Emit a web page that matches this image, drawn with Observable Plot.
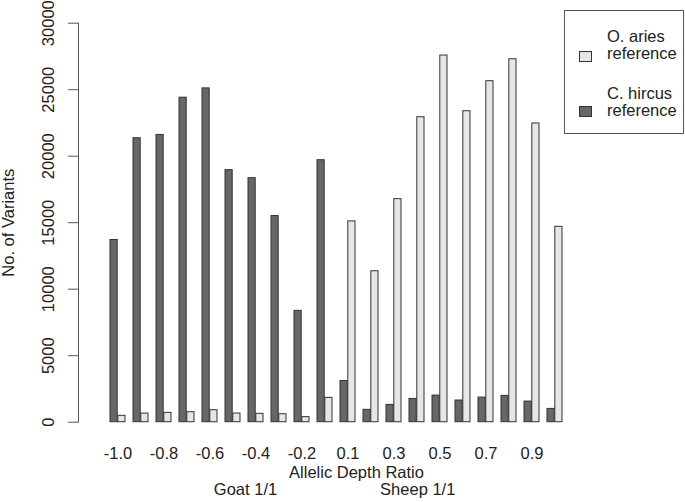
<!DOCTYPE html>
<html>
<head>
<meta charset="utf-8">
<script src="https://cdn.jsdelivr.net/npm/d3@7"></script>
<script src="https://cdn.jsdelivr.net/npm/@observablehq/plot@0.6"></script>
<style>
  html, body { margin: 0; padding: 0; background: #fff; }
  #wrap { position: relative; width: 685px; height: 502px; font-family: "Liberation Sans", Arial, Helvetica, sans-serif; color: #222; }
  #legend { position: absolute; left: 564px; top: 10px; width: 118px; height: 122px; border: 1.3px solid #555; box-sizing: content-box; }
  .sw { position: absolute; width: 11px; height: 9px; border: 1px solid #333; }
  .lt { position: absolute; font-size: 16.5px; line-height: 17px; white-space: nowrap; }
</style>
</head>
<body>
<div id="wrap"><div id="chart"></div><div id="legend"></div></div>
<script>
// Allelic depth ratio bins (category labels)
const ratios = ["-1.0","-0.9","-0.8","-0.7","-0.6","-0.5","-0.4","-0.3","-0.2","-0.1",
                "0.1","0.2","0.3","0.4","0.5","0.6","0.7","0.8","0.9","1.0"];
// C. hircus reference (dark bars)
const hircus = [13700, 21350, 21600, 24400, 25100, 18950, 18350, 15500, 8370, 19700,
                3100, 930, 1300, 1750, 2000, 1630, 1850, 1980, 1550, 1000];
// O. aries reference (light bars)
const aries = [480, 650, 700, 750, 900, 650, 630, 600, 380, 1830,
               15100, 11350, 16770, 22930, 27570, 23380, 25640, 27290, 22460, 14690];
// tick labels shown on the x axis
const shownTicks = ["-1.0","-0.8","-0.6","-0.4","-0.2","0.1","0.3","0.5","0.7","0.9"];
const yTicks = [0, 5000, 10000, 15000, 20000, 25000, 30000];
// legend
const legendLabels = [["O. aries", "reference"], ["C. hircus", "reference"]];
const legendColors = ["#e6e6e6", "#676767"];
// group notes under the axis
const goatNote = [{label: "Goat 1/1", at: "-0.4"}];
const sheepNote = [{label: "Sheep 1/1", at: "0.4"}];

const rows = ratios.map((r, i) => ({ratio: r, hircus: hircus[i], aries: aries[i]}));

const chart = Plot.plot({
  width: 685,
  height: 502,
  marginLeft: 78,
  marginRight: 51,
  marginTop: 22.7,
  marginBottom: 80.3,
  style: {fontFamily: "'Liberation Sans', Arial, Helvetica, sans-serif", fontSize: "16.5px", color: "#222", background: "transparent"},
  x: {type: "band", domain: ratios, paddingInner: 1/3, paddingOuter: 2.05, align: 0.306},
  y: {domain: [0, 30000]},
  marks: [
    Plot.barY(rows, {x: "ratio", y: "hircus", fill: legendColors[1], stroke: "#333", strokeWidth: 1, insetRight: 7.8}),
    Plot.barY(rows, {x: "ratio", y: "aries", fill: legendColors[0], stroke: "#333", strokeWidth: 1, insetLeft: 7.8}),
    Plot.frame({anchor: "left", stroke: "#555"}),
    Plot.axisY({ticks: yTicks, tickSize: 10, tickPadding: 14.7, tickRotate: -90, tickFormat: d => String(d),
                stroke: "#555", label: "No. of Variants", labelAnchor: "center", labelOffset: 76.3, labelArrow: false}),
    Plot.axisX({ticks: shownTicks, tickSize: 0, tickPadding: 25, label: "Allelic Depth Ratio",
                labelAnchor: "center", labelOffset: 56, labelArrow: false}),
    Plot.text(goatNote, {x: "at", text: "label", frameAnchor: "bottom", dy: 72.3, dx: -10.5, fill: "#222"}),
    Plot.text(sheepNote, {x: "at", text: "label", frameAnchor: "bottom", dy: 72.3, dx: 0.7, fill: "#222"})
  ]
});
document.getElementById("chart").appendChild(chart);

// legend (HTML overlay in the top-right corner, as in the reference)
const legend = document.getElementById("legend");
const swTops = [40, 95];
const txtTops = [17.3, 74];
legendLabels.forEach((lines, i) => {
  const sw = document.createElement("div");
  sw.className = "sw";
  sw.style.left = "14px";
  sw.style.top = swTops[i] + "px";
  sw.style.background = legendColors[i];
  legend.appendChild(sw);
  const t = document.createElement("div");
  t.className = "lt";
  t.style.left = "42px";
  t.style.top = txtTops[i] + "px";
  t.innerHTML = lines.join("<br>");
  legend.appendChild(t);
});
</script>
</body>
</html>
